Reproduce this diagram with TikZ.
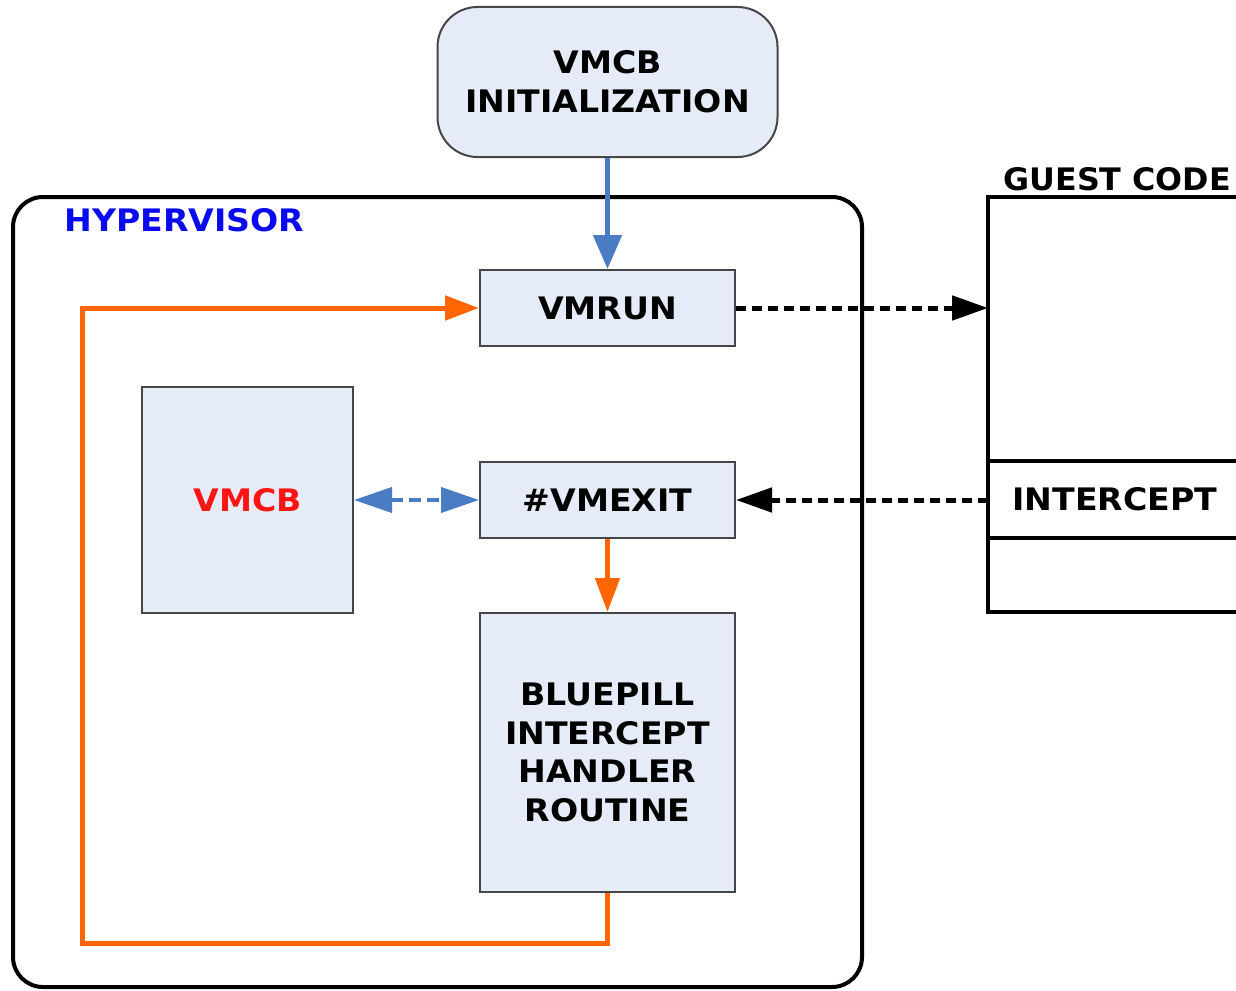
\documentclass[tikz,border=0pt]{standalone}
\usepackage{fontspec}
\setmainfont{DejaVu Sans}[FakeStretch=1.07]
\newfontfamily\guestfont{DejaVu Sans}[FakeStretch=1.025]
\usetikzlibrary{arrows.meta}
\definecolor{boxfill}{RGB}{230,236,247}
\definecolor{boxline}{RGB}{70,70,70}
\definecolor{blueline}{RGB}{74,124,196}
\definecolor{orangeline}{RGB}{255,102,0}
\definecolor{hypblue}{RGB}{10,10,240}
\definecolor{vmcbred}{RGB}{255,20,20}
\begin{document}
\begin{tikzpicture}[x=0.5pt,y=-0.5pt,
  txt/.style={font=\fontsize{15.5}{19.4}\selectfont\bfseries},
  procbox/.style={draw=boxline, line width=1pt, fill=boxfill, txt, align=center, inner sep=0pt},
  container/.style={draw=black, line width=2pt, inner sep=0pt},
  orangeflow/.style={draw=orangeline, line width=2.5pt, -{Triangle[length=17pt,width=12pt]}},
  blueflow/.style={draw=blueline, line width=2.5pt, -{Triangle[length=17pt,width=14pt]}},
  bluedash/.style={draw=blueline, line width=2pt, dash pattern=on 6pt off 3pt, {Triangle[length=19pt,width=12.5pt]}-{Triangle[length=19pt,width=12.5pt]}},
  blackdash/.style={draw=black, line width=2.5pt, dash pattern=on 5pt off 3pt, -{Triangle[length=18pt,width=12pt]}}
]
\useasboundingbox (0,0) rectangle (1236,990);
\clip (0,0) rectangle (1236,990);

% hypervisor container
\node[container, rounded corners=15pt, minimum width=424.5pt, minimum height=395pt] (hyp) at (437.5,592) {};
\node[txt, text=hypblue, anchor=base west, inner sep=0pt] (hyplabel) at (64,231) {HYPERVISOR};

% guest code column
\draw[line width=2pt] (1250,197) -- (988,197) -- (988,612) -- (1250,612);
\draw[line width=2pt] (988,461) -- (1250,461);
\draw[line width=2pt] (988,538) -- (1250,538);
\coordinate (gin) at (988,308);
\coordinate (gout) at (988,500);
\node[font=\guestfont\fontsize{15.5}{19.4}\selectfont\bfseries, anchor=base west, inner sep=0pt] (guestlabel) at (1003,190) {GUEST CODE};
\node[txt, anchor=base west, inner sep=0pt] (intercept) at (1012,510) {INTERCEPT};

% boxes
\node[procbox, rounded corners=20pt, minimum width=170pt, minimum height=75pt] (init) at (607.5,82) {VMCB\\INITIALIZATION};
\node[procbox, minimum width=127.5pt, minimum height=38pt] (vmrun) at (607.5,308) {VMRUN};
\node[procbox, minimum width=127.5pt, minimum height=38pt] (vmexit) at (607.5,500) {\#VMEXIT};
\node[procbox, minimum width=127.5pt, minimum height=139.5pt] (bp) at (607.5,752.5) {BLUEPILL\\INTERCEPT\\HANDLER\\ROUTINE};
\node[procbox, minimum width=105.5pt, minimum height=113pt, text=vmcbred] (vmcb) at (247.5,500) {VMCB};

\coordinate (loopbl) at (82,943);

% connectors
\draw[blueflow] (init.south) -- (vmrun.north);
\draw[orangeflow] (vmexit.south) -- (bp.north);
\draw[orangeflow] (bp.south) |- (loopbl) |- (vmrun.west);
\draw[bluedash] (vmcb.east) -- (vmexit.west);
\draw[blackdash] (vmrun.east) -- (gin);
\draw[blackdash] (gout) -- (vmexit.east);
\end{tikzpicture}
\end{document}
